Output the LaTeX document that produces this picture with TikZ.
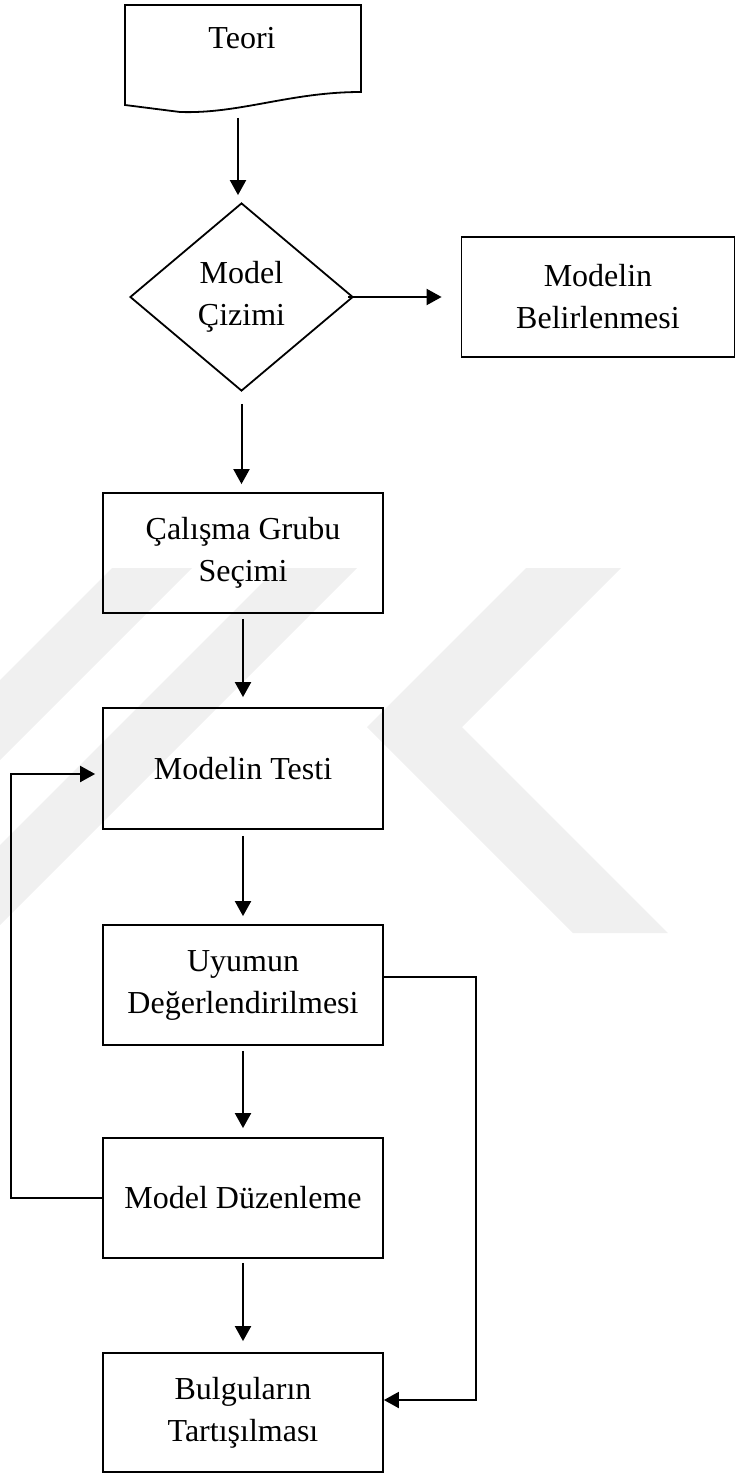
\documentclass[tikz,border=0pt]{standalone}
\usepackage{fontspec}
\setmainfont{Liberation Serif}
\usetikzlibrary{shapes.geometric,arrows.meta}
\begin{document}
\begin{tikzpicture}[x=1pt,y=-1pt,
  txt/.style={font=\fontsize{32}{42}\selectfont,align=center},
  box/.style={txt,draw,line width=1.8pt,inner sep=0pt,minimum width=280pt,minimum height=120pt},
  arr/.style={line width=2pt,-{Triangle[length=15pt,width=16pt]}},
  wm/.style={fill=black!6}]
\useasboundingbox (0,0) rectangle (736,1474);
% watermark
\begin{scope}
\clip (0,568) rectangle (736,933);
\fill[wm] (112,568) -- (192,568) -- (-173,933) -- (-253,933) -- cycle;
\fill[wm] (277,568) -- (357,568) -- (-8,933) -- (-88,933) -- cycle;
\fill[wm] (526,568) -- (621,568) -- (462,727) -- (668,933) -- (573,933) -- (367,727) -- cycle;
\end{scope}
% Teori (document shape)
\draw[line width=1.8pt,fill=white] (125,105) -- (125,5) -- (361,5) -- (361,92)
  .. controls (290,92) and (240,114) .. (180,112) -- cycle;
\node[txt] (teori) at (242,38) {Teori};
\coordinate (teoriout) at (238,118);
% nodes
\node[txt,diamond,draw,line width=1.8pt,fill=white,inner sep=0pt,minimum width=223pt,minimum height=188pt] (dia) at (241.5,297) {Model\\Çizimi};
\node[box,minimum width=273pt,fill=white] (belir) at (598,297) {Modelin\\Belirlenmesi};
\node[box] (calisma) at (243,553) {Çalışma Grubu\\Seçimi};
\node[box,minimum height=121pt] (testi) at (243,768.5) {Modelin Testi};
\node[box] (uyum) at (243,985) {Uyumun\\Değerlendirilmesi};
\node[box] (duzen) at (243,1198) {Model Düzenleme};
\node[box,minimum height=119pt] (bulgu) at (243,1412.5) {Bulguların\\Tartışılması};
% connectors
\draw[arr] (teoriout) -- ([shift={(0,-7)}]teoriout |- dia.north);
\draw[arr] ([shift={(-6,0)}]dia.east) -- ([shift={(-19,0)}]belir.west);
\draw[arr] ([shift={(0,12)}]dia.south) -- ([shift={(0,-8)}]dia.south |- calisma.north);
\draw[arr] ([shift={(0,5)}]calisma.south) -- ([shift={(0,-10)}]testi.north);
\draw[arr] ([shift={(0,6)}]testi.south) -- ([shift={(0,-8)}]uyum.north);
\draw[arr] ([shift={(0,5)}]uyum.south) -- ([shift={(0,-9)}]duzen.north);
\draw[arr] ([shift={(0,4)}]duzen.south) -- ([shift={(0,-11)}]bulgu.north);
\draw[arr] (duzen.west) -- ++(-91,0) |- ([shift={(-7,5.5)}]testi.west);
\draw[arr] ([shift={(0,-8)}]uyum.east) -- ++(92,0) |- ([shift={(0,-12.5)}]bulgu.east);
\end{tikzpicture}
\end{document}
